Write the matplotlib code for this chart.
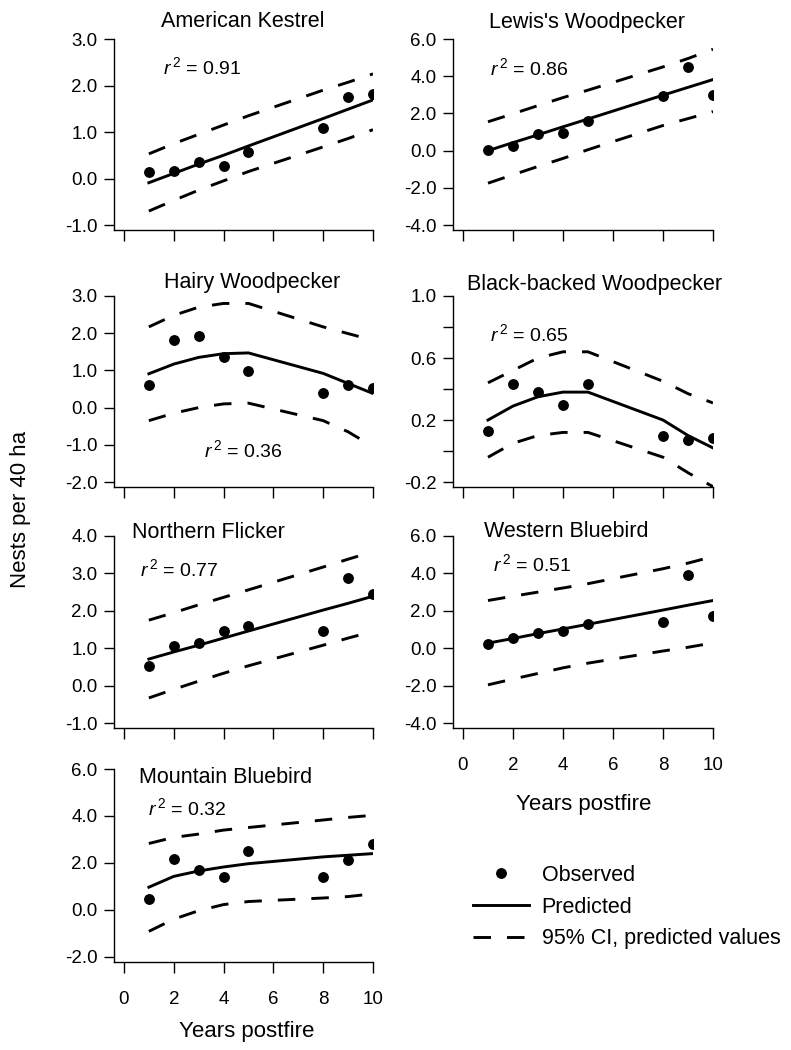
import numpy as np
import matplotlib
matplotlib.use("Agg")
import matplotlib.pyplot as plt
from matplotlib.lines import Line2D

plt.rcParams['font.family'] = ['Liberation Sans', 'DejaVu Sans']
plt.rcParams['mathtext.fontset'] = 'custom'
plt.rcParams['mathtext.rm'] = 'Liberation Sans'
plt.rcParams['mathtext.it'] = 'Liberation Sans:italic'
plt.rcParams['axes.unicode_minus'] = False

# years postfire with nest surveys
years = [1, 2, 3, 4, 5, 8, 9, 10]

# observed / predicted / 95% CI bounds (nests per 40 ha)
kestrel_obs = [0.14, 0.16, 0.36, 0.26, 0.56, 1.09, 1.76, 1.82]
kestrel_pred = [-0.09, 0.11, 0.31, 0.50, 0.70, 1.29, 1.49, 1.69]
kestrel_upper = [0.53, 0.75, 0.95, 1.15, 1.35, 1.90, 2.07, 2.25]
kestrel_lower = [-0.70, -0.47, -0.25, -0.05, 0.15, 0.68, 0.86, 1.05]

lewis_obs = [0.02, 0.23, 0.91, 0.95, 1.57, 2.95, 4.52, 3.00]
lewis_pred = [0.0, 0.43, 0.85, 1.28, 1.70, 2.98, 3.40, 3.82]
lewis_upper = [1.55, 1.98, 2.42, 2.85, 3.25, 4.50, 4.95, 5.45]
lewis_lower = [-1.75, -1.30, -0.85, -0.42, 0.05, 1.35, 1.72, 2.10]

hairy_obs = [0.62, 1.83, 1.93, 1.36, 0.98, 0.40, 0.60, 0.53]
hairy_pred = [0.91, 1.17, 1.35, 1.45, 1.47, 0.92, 0.65, 0.38]
hairy_upper = [2.17, 2.48, 2.70, 2.80, 2.80, 2.17, 1.99, 1.81]
hairy_lower = [-0.35, -0.15, 0.0, 0.10, 0.12, -0.35, -0.65, -1.05]

blackbacked_obs = [0.13, 0.43, 0.38, 0.30, 0.43, 0.10, 0.07, 0.085]
blackbacked_pred = [0.20, 0.29, 0.35, 0.38, 0.38, 0.20, 0.10, 0.02]
blackbacked_upper = [0.44, 0.52, 0.60, 0.64, 0.64, 0.45, 0.37, 0.31]
blackbacked_lower = [-0.04, 0.05, 0.10, 0.12, 0.12, -0.04, -0.14, -0.23]

flicker_obs = [0.52, 1.07, 1.14, 1.46, 1.59, 1.47, 2.87, 2.44]
flicker_pred = [0.71, 0.90, 1.08, 1.27, 1.46, 2.02, 2.20, 2.39]
flicker_upper = [1.75, 1.95, 2.16, 2.36, 2.56, 3.17, 3.38, 3.58]
flicker_lower = [-0.33, -0.10, 0.12, 0.33, 0.53, 1.08, 1.27, 1.45]

western_obs = [0.23, 0.54, 0.82, 0.91, 1.29, 1.39, 3.93, 1.70]
western_pred = [0.27, 0.52, 0.78, 1.03, 1.28, 2.04, 2.30, 2.55]
western_upper = [2.55, 2.78, 3.00, 3.22, 3.45, 4.25, 4.55, 4.90]
western_lower = [-1.96, -1.65, -1.35, -1.05, -0.80, -0.15, 0.05, 0.28]

mountain_obs = [0.47, 2.19, 1.69, 1.40, 2.50, 1.40, 2.11, 2.79]
mountain_pred = [0.97, 1.43, 1.66, 1.83, 1.97, 2.26, 2.33, 2.40]
mountain_upper = [2.83, 3.09, 3.23, 3.40, 3.51, 3.83, 3.94, 4.03]
mountain_lower = [-0.91, -0.39, -0.03, 0.23, 0.36, 0.51, 0.57, 0.69]

species = ["American Kestrel", "Lewis's Woodpecker", "Hairy Woodpecker",
           "Black-backed Woodpecker", "Northern Flicker", "Western Bluebird",
           "Mountain Bluebird"]
r2_values = [0.91, 0.86, 0.36, 0.65, 0.77, 0.51, 0.32]
y_ticks = [[-1, 0, 1, 2, 3], [-4, -2, 0, 2, 4, 6], [-2, -1, 0, 1, 2, 3],
           [-0.2, 0.0, 0.2, 0.4, 0.6, 0.8, 1.0], [-1, 0, 1, 2, 3, 4],
           [-4, -2, 0, 2, 4, 6], [-2, 0, 2, 4, 6]]
x_ticks = [0, 2, 4, 6, 8, 10]

series = [
    (kestrel_obs, kestrel_pred, kestrel_upper, kestrel_lower),
    (lewis_obs, lewis_pred, lewis_upper, lewis_lower),
    (hairy_obs, hairy_pred, hairy_upper, hairy_lower),
    (blackbacked_obs, blackbacked_pred, blackbacked_upper, blackbacked_lower),
    (flicker_obs, flicker_pred, flicker_upper, flicker_lower),
    (western_obs, western_pred, western_upper, western_lower),
    (mountain_obs, mountain_pred, mountain_upper, mountain_lower),
]

# layout in pixels (figure is 791 x 1050)
W, H = 791, 1050
cols = [(114, 373), (453, 713)]
rows = [(39, 230), (296, 487), (536, 728), (769, 962)]
title_pos = [(243, 27), (587, 28), (252, 288), (595, 290), (208, 538), (566, 537), (226, 783)]
r2_pos = [(163, 74), (490, 75), (204, 457), (490, 341), (140, 576), (493, 571), (148, 815)]

DASH = (0, (6, 5.5))


def fx(px):
    return px / W


def fy(py):
    return 1 - py / H


fig = plt.figure(figsize=(W / 100, H / 100), dpi=100)

for i, name in enumerate(species):
    r, c = divmod(i, 2)
    left, right = cols[c]
    top, bottom = rows[r]
    ax = fig.add_axes([fx(left), fy(bottom), (right - left) / W, (bottom - top) / H])
    obs, pred, upper, lower = series[i]

    ax.plot(years, upper, color='black', lw=2.1, ls=DASH)
    ax.plot(years, lower, color='black', lw=2.1, ls=DASH)
    ax.plot(years, pred, color='black', lw=2.1)
    ax.plot(years, obs, 'o', color='black', ms=6.8)

    yt = y_ticks[i]
    span = yt[-1] - yt[0]
    ax.set_ylim(yt[0] - span * 5 / 187, yt[-1])
    ax.set_xlim(-0.4, 10)
    ax.set_yticks(yt)
    if name == "Black-backed Woodpecker":
        ax.set_yticklabels([f"{v:.1f}" if k % 2 == 0 else "" for k, v in enumerate(yt)])
    else:
        ax.set_yticklabels([f"{v:.1f}" for v in yt])
    ax.set_xticks(x_ticks)
    if i in (5, 6):
        ax.set_xticklabels([str(v) for v in x_ticks])
    else:
        ax.set_xticklabels([])

    for s in ('top', 'right'):
        ax.spines[s].set_visible(False)
    for s in ('left', 'bottom'):
        ax.spines[s].set_linewidth(1.0)
    ax.tick_params(axis='y', direction='out', length=7, width=1, pad=5, labelsize=13.5)
    ax.tick_params(axis='x', direction='out', length=8, width=1, pad=13, labelsize=13.5)
    ax.patch.set_visible(False)

    tx, ty = title_pos[i]
    fig.text(fx(tx), fy(ty), name, ha='center', va='baseline', fontsize=15.5)
    rx, ry = r2_pos[i]
    fig.text(fx(rx), fy(ry), r"$r^{\,2}$ = " + f"{r2_values[i]:.2f}",
             ha='left', va='baseline', fontsize=14)

# axis labels
fig.text(fx(21), fy(509), "Nests per 40 ha", rotation=90, ha='center', va='center', fontsize=16)
fig.text(fx(584), fy(810), "Years postfire", ha='center', va='baseline', fontsize=16)
fig.text(fx(247), fy(1037), "Years postfire", ha='center', va='baseline', fontsize=16)

# legend
handles = [
    Line2D([], [], color='black', marker='o', ls='none', ms=6.8),
    Line2D([], [], color='black', lw=2.1),
    Line2D([], [], color='black', lw=2.1, ls=DASH),
]
labels = ["Observed", "Predicted", "95% CI, predicted values"]
fig.legend(handles, labels, loc='upper left', bbox_to_anchor=(fx(462), fy(854)),
           frameon=False, fontsize=15.5, handlelength=2.6, handletextpad=0.6,
           labelspacing=0.5, borderpad=0)

fig.savefig("out.png", dpi=100)
